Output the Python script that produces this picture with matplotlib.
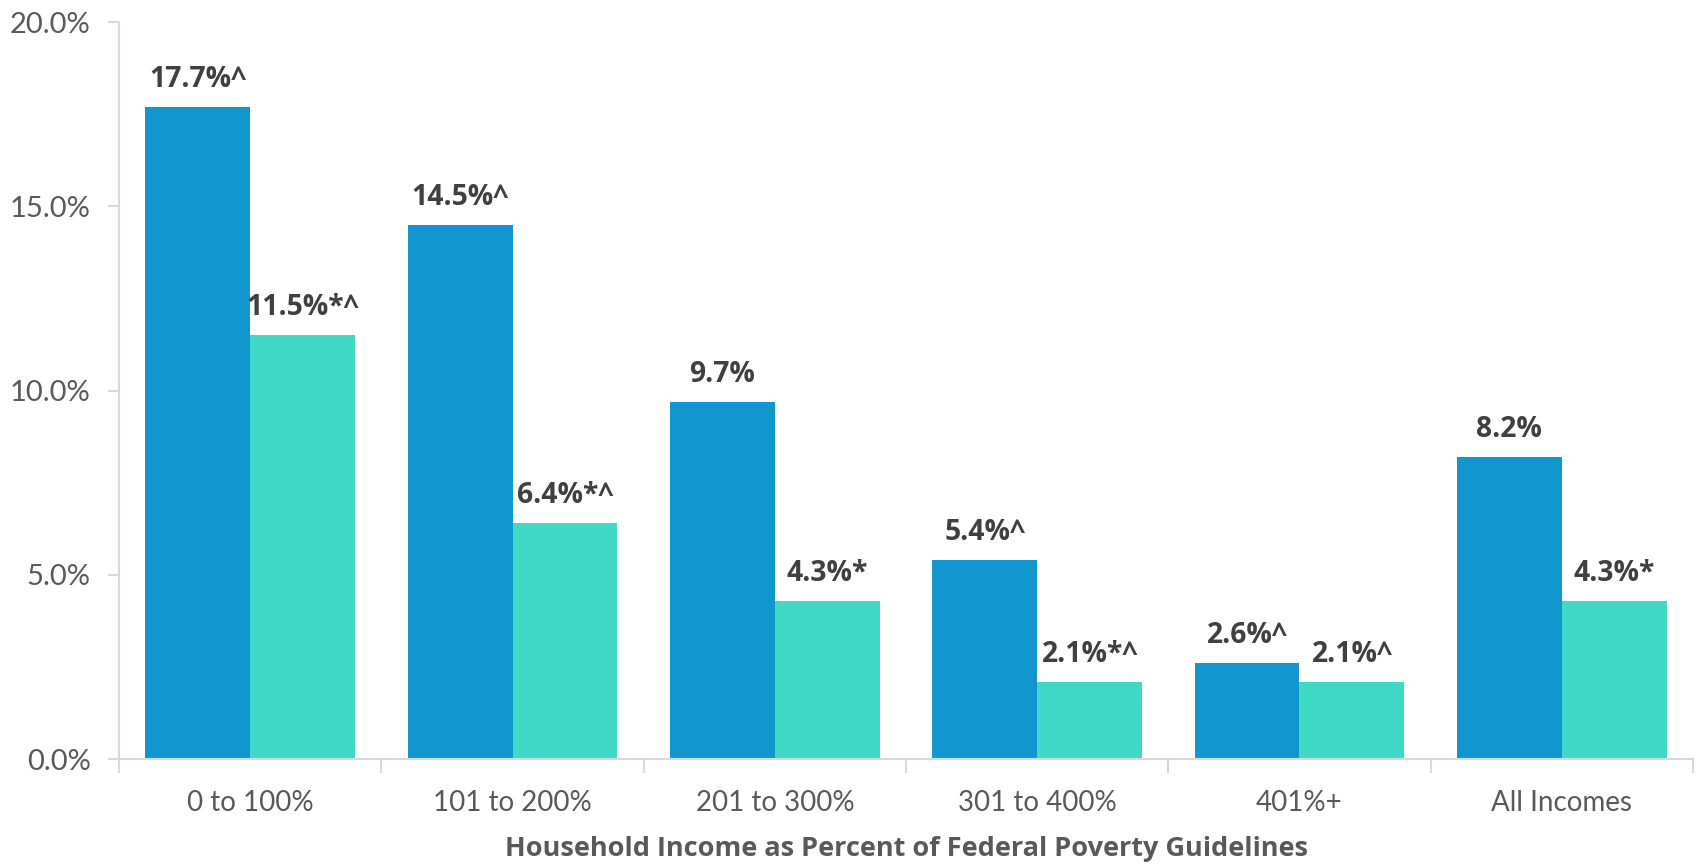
import numpy as np
import matplotlib
matplotlib.use("Agg")
import matplotlib.pyplot as plt
from matplotlib.ticker import FuncFormatter, FixedLocator

categories = ["0 to 100%", "101 to 200%", "201 to 300%", "301 to 400%", "401%+", "All Incomes"]
series_a = [17.7, 14.5, 9.7, 5.4, 2.6, 8.2]
series_b = [11.5, 6.4, 4.3, 2.1, 2.1, 4.3]
labels_a = ["17.7%^", "14.5%^", "9.7%", "5.4%^", "2.6%^", "8.2%"]
labels_b = ["11.5%*^", "6.4%*^", "4.3%*", "2.1%*^", "2.1%^", "4.3%*"]
xlabel = "Household Income as Percent of Federal Poverty Guidelines"

plt.rcParams['font.family'] = ['Lato', 'DejaVu Sans']

color_a = '#1196CE'
color_b = '#40D9C6'
grid_gray = '#D9D9D9'
text_gray = '#595959'

fig = plt.figure(figsize=(16.96, 8.64), dpi=100)
ax = fig.add_axes([0.0702, 0.1215, 0.928, 0.853])

x = np.arange(len(categories))
w = 0.4
bars_a = ax.bar(x - w / 2, series_a, w, color=color_a, zorder=2)
bars_b = ax.bar(x + w / 2, series_b, w, color=color_b, zorder=2)

# value labels above each bar
for bars, labels in ((bars_a, labels_a), (bars_b, labels_b)):
    for b, lab in zip(bars, labels):
        ax.annotate(lab, (b.get_x() + b.get_width() / 2, b.get_height()),
                    xytext=(0, 14.4), textcoords='offset points',
                    ha='center', va='baseline', fontsize=20.3, fontweight='bold',
                    family=['Open Sans', 'DejaVu Sans'], color='#404040')

ax.set_xlim(-0.5, len(categories) - 0.5)
ax.set_ylim(0, 20)
ax.set_yticks([0, 5, 10, 15, 20])
ax.yaxis.set_major_formatter(FuncFormatter(lambda v, p: f"{v:.1f}%"))

ax.set_xticks(x)
ax.set_xticklabels(categories)
ax.xaxis.set_minor_locator(FixedLocator(np.arange(-0.5, len(categories), 1.0)))

for s in ['top', 'right']:
    ax.spines[s].set_visible(False)
for s in ['left', 'bottom']:
    ax.spines[s].set_color(grid_gray)
    ax.spines[s].set_linewidth(1.5)

ax.tick_params(axis='y', which='major', length=8, width=1.5, color=grid_gray,
               labelsize=21, labelcolor=text_gray, pad=12.5)
ax.tick_params(axis='x', which='major', length=0, labelsize=20,
               labelcolor=text_gray, pad=22)
ax.tick_params(axis='x', which='minor', length=10, width=1.5, color=grid_gray)

ax.set_xlabel(xlabel, fontsize=19.5, fontweight='bold', color=text_gray, labelpad=15,
              family=['Open Sans', 'DejaVu Sans'])

fig.savefig('out.png', dpi=100)
